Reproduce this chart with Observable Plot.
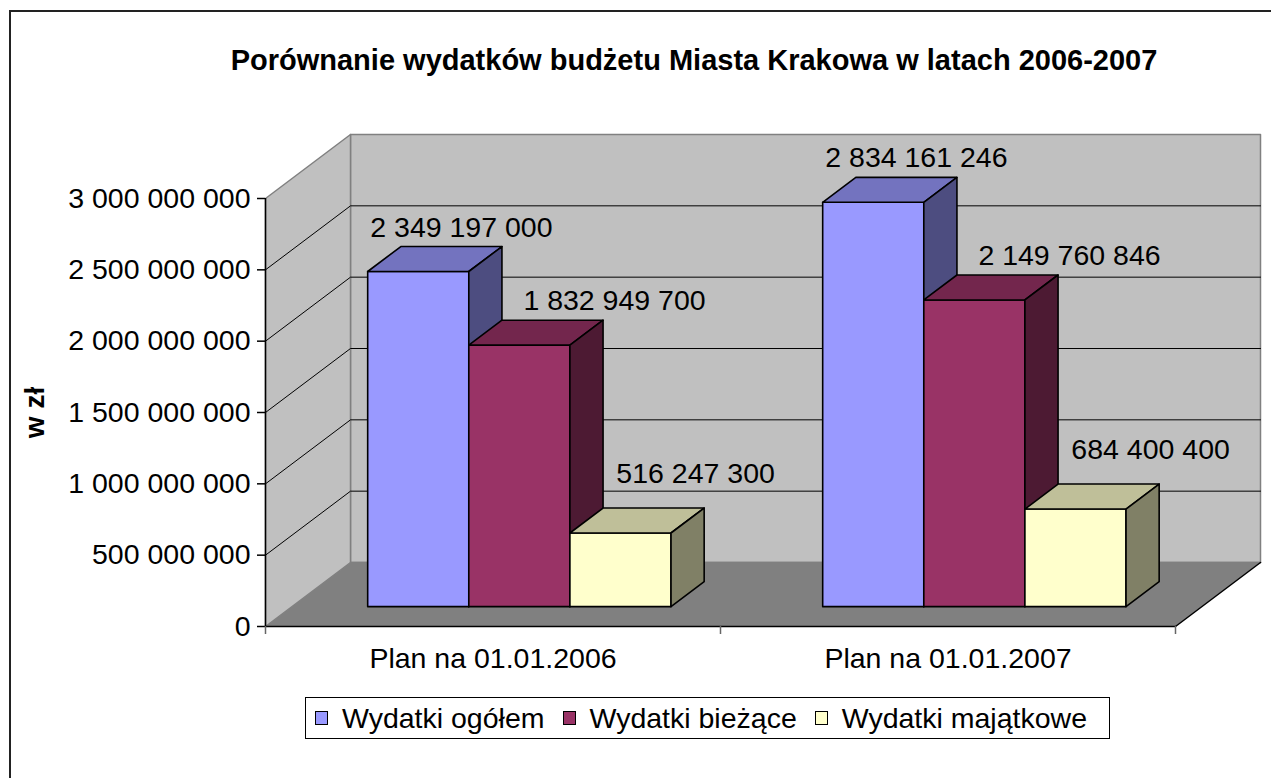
<!DOCTYPE html>
<html><head><meta charset="utf-8">
<script src="https://cdn.jsdelivr.net/npm/d3@7"></script>
<script src="https://cdn.jsdelivr.net/npm/@observablehq/plot@0.6"></script>
<style>
html,body{margin:0;padding:0;background:#fff;overflow:hidden}
#wrap{position:relative;width:1271px;height:778px;overflow:hidden;font-family:"Liberation Sans",Arial,sans-serif;background:#fff}
#frame{position:absolute;left:9px;top:10px;width:1400px;height:900px;border-left:2px solid #222;border-top:2px solid #222;z-index:2;pointer-events:none}
#chart{position:absolute;left:0;top:0;z-index:1}
#legend{position:absolute;left:305px;top:697px;width:805px;height:42px;box-sizing:border-box;border:1.5px solid #000;display:flex;align-items:center;padding-left:9px;font-size:28.5px;color:#000;z-index:3;background:#fff;white-space:nowrap}
#legend .sw{display:inline-block;width:11px;height:12px;border:1px solid #000;margin-right:14px}
#legend .tx{margin-right:18px}
</style></head><body>
<div id="wrap"><div id="chart"></div><div id="frame"></div><div id="legend"></div></div>
<script>
// ---- data ----
const title = "Porównanie wydatków budżetu Miasta Krakowa w latach 2006-2007";
const categories = ["Plan na 01.01.2006", "Plan na 01.01.2007"];
const seriesNames = ["Wydatki ogółem", "Wydatki bieżące", "Wydatki majątkowe"];
const ogolem = [2349197000, 2834161246];
const biezace = [1832949700, 2149760846];
const majatkowe = [516247300, 684400400];
const yTicks = [0, 500000000, 1000000000, 1500000000, 2000000000, 2500000000, 3000000000];
const yLabel = "w zł";

// ---- styles ----
const frontColors = ["#9999FF", "#993366", "#FFFFCC"];
const topColors = ["#7373BF", "#73264D", "#BFBF99"];
const sideColors = ["#4D4D80", "#4D1A33", "#808066"];
const labelDx = [10, 62, 42];
const labelDy = [-10, -10, -25];
const FS = 28.5;

// ---- layout ----
const W = 1271, H = 778;
const mL = 265, mR = 96, mT = 198, mB = 152;
const yMax = d3.max(yTicks);
const nCat = categories.length;
const pxPerX = (W - mL - mR) / nCat;
const pxPerY = (H - mT - mB) / yMax;
const XD = 85 / pxPerX;   // depth offset in x units
const YD = 64 / pxPerY;   // depth offset in y units
const GAP = 1.5;
const BW = 1 / (seriesNames.length + GAP);
const START = GAP * BW / 2;
const Z_FRONT = 0.31, Z_BACK = 0.70;

const P = (x, y, z) => ({x: x + z * XD, y: y + z * YD});
function polygon(id, pts, fill, stroke) {
  return [...pts, pts[0]].map(p => ({id, x: p.x, y: p.y, fill, stroke}));
}
function polyline(id, pts, stroke) {
  return pts.map(p => ({id, x: p.x, y: p.y, fill: "none", stroke}));
}

const fmt = d3.formatLocale({decimal: ",", thousands: " ", grouping: [3], currency: ["", ""]}).format(",d");

// walls
const walls = [
  ...polygon("back", [P(0,0,1), P(nCat,0,1), P(nCat,yMax,1), P(0,yMax,1)], "#C0C0C0", "#808080"),
  ...polygon("left", [P(0,0,0), P(0,yMax,0), P(0,yMax,1), P(0,0,1)], "#C0C0C0", "#808080")
];
const grid = yTicks.filter(v => v > 0 && v < yMax).flatMap(v =>
  polyline("g" + v, [P(0,v,0), P(0,v,1), P(nCat,v,1)], "#000"));
const floor = polygon("floor", [P(0,0,0), P(nCat,0,0), P(nCat,0,1), P(0,0,1)], "#808080", "none");
const floorEdges = [
  ...polyline("fb", [P(0,0,1), P(nCat,0,1)], "#808080"),
  ...polyline("fr", [P(nCat,0,0), P(nCat,0,1)], "#000"),
  ...polyline("ff", [P(0,0,0), P(nCat,0,0)], "#000")
];

// bars
const seriesValues = [ogolem, biezace, majatkowe];
const rows = [];
categories.forEach((c, i) => seriesNames.forEach((s, k) => rows.push({i, k, v: seriesValues[k][i]})));
const bars = rows.flatMap(({i, k, v}) => {
  const x0 = i + START + k * BW, x1 = x0 + BW;
  const id = `b${i}_${k}`;
  return [
    ...polygon(id + "f", [P(x0,0,Z_FRONT), P(x1,0,Z_FRONT), P(x1,v,Z_FRONT), P(x0,v,Z_FRONT)], frontColors[k], "#000"),
    ...polygon(id + "t", [P(x0,v,Z_FRONT), P(x1,v,Z_FRONT), P(x1,v,Z_BACK), P(x0,v,Z_BACK)], topColors[k], "#000"),
    ...polygon(id + "s", [P(x1,0,Z_FRONT), P(x1,v,Z_FRONT), P(x1,v,Z_BACK), P(x1,0,Z_BACK)], sideColors[k], "#000")
  ];
});

const polyOpts = {x: "x", y: "y", z: "id", fill: "fill", stroke: "stroke", strokeLinejoin: "round"};

const labelMarks = seriesNames.map((s, k) => Plot.text(rows.filter(r => r.k === k), {
  x: r => r.i + START + k * BW + BW / 2 + Z_BACK * XD,
  y: r => r.v + Z_BACK * YD,
  text: r => fmt(r.v),
  dx: labelDx[k], dy: labelDy[k],
  textAnchor: "middle", lineAnchor: "bottom", fontSize: FS, fill: "#000"
}));

const chart = Plot.plot({
  width: W, height: H,
  marginLeft: mL, marginRight: mR, marginTop: mT, marginBottom: mB,
  style: {fontFamily: '"Liberation Sans", Arial, sans-serif', fontSize: FS + "px", background: "transparent", overflow: "visible"},
  x: {type: "linear", domain: [0, nCat], label: null},
  y: {domain: [0, yMax], label: null},
  color: {type: "identity"},
  marks: [
    Plot.line(walls, {...polyOpts, strokeWidth: 1.5}),
    Plot.line(grid, {...polyOpts, strokeWidth: 1}),
    Plot.line(floor, {...polyOpts}),
    Plot.line(floorEdges, {...polyOpts, strokeWidth: 1.5}),
    Plot.axisY({ticks: yTicks, tickFormat: fmt, tickSize: 8, tickPadding: 7, fontSize: FS, label: null, strokeWidth: 1.5}),
    Plot.ruleX([0], {y1: 0, y2: yMax, stroke: "#000", strokeWidth: 1.5}),
    Plot.axisX({ticks: d3.range(nCat + 1), tickSize: 8, tickFormat: () => "", stroke: "#666", strokeWidth: 1.5, label: null}),
    Plot.axisX({ticks: categories.map((c, i) => i + 0.5), tickSize: 0, tickPadding: 21, tickFormat: d => categories[Math.floor(d)], fontSize: FS, label: null}),
    Plot.line(bars, {...polyOpts, strokeWidth: 1.6}),
    ...labelMarks,
    Plot.text([title], {frameAnchor: "top", dx: 693.5 - (mL + (W - mL - mR) / 2), dy: 69 - mT, lineAnchor: "bottom", fontSize: 29, fontWeight: "bold", fill: "#000"}),
    Plot.text([yLabel], {frameAnchor: "left", dx: 35 - mL, rotate: -90, textAnchor: "middle", fontSize: 28, fontWeight: "bold", fill: "#000"})
  ]
});
document.getElementById("chart").appendChild(chart);

// legend
const legend = document.getElementById("legend");
seriesNames.forEach((s, k) => {
  const sw = document.createElement("span");
  sw.className = "sw"; sw.style.background = frontColors[k];
  const tx = document.createElement("span");
  tx.className = "tx"; tx.textContent = s;
  legend.appendChild(sw); legend.appendChild(tx);
});
</script>
</body></html>
